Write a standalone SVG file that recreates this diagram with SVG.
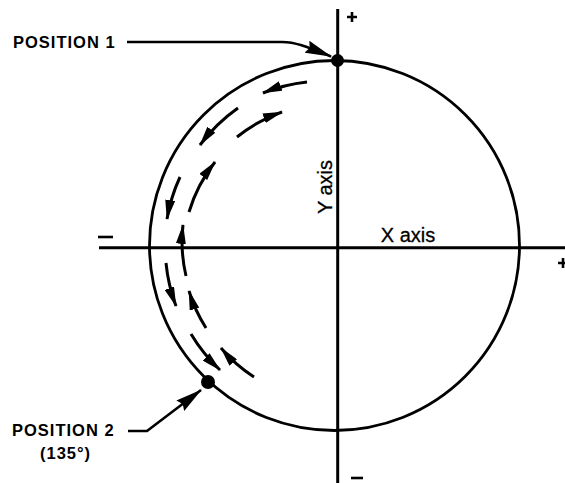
<svg xmlns="http://www.w3.org/2000/svg" width="565" height="483" viewBox="0 0 565 483">
<style>
.ln{fill:none;stroke:#000;stroke-width:2.6;stroke-linecap:butt}
.ax{fill:none;stroke:#000;stroke-width:3}
.ds{fill:none;stroke:#000;stroke-width:3}
.lbl{font-family:"Liberation Sans",Arial,sans-serif;font-weight:bold;font-size:16.5px;letter-spacing:1px;fill:#000}
.axl{font-family:"Liberation Sans",Arial,sans-serif;font-size:20px;fill:#000;stroke:#000;stroke-width:0.3}
.sg{fill:none;stroke:#000;stroke-width:2.6}
</style>
<defs>
<marker id="ah" markerUnits="userSpaceOnUse" markerWidth="20" markerHeight="10" viewBox="0 0 20 10" refX="19" refY="5" orient="auto">
<path d="M0,0 L20,5 L0,10 z" fill="#000"/>
</marker>
<marker id="lead" markerUnits="userSpaceOnUse" markerWidth="27" markerHeight="13" viewBox="0 0 27 13" refX="26" refY="6.5" orient="auto">
<path d="M0,0 L27,6.5 L0,13 L3,6.5 z" fill="#000"/>
</marker>
</defs>
<g id="axes">
<line class="ax" x1="337.7" y1="9" x2="337.7" y2="483"/>
<line class="ax" x1="99" y1="247.7" x2="565" y2="247.7"/>
<text class="axl" x="408" y="242" text-anchor="middle">X axis</text>
<text class="axl" transform="translate(332,187) rotate(-90)" text-anchor="middle">Y axis</text>
<path class="sg" d="M352,12 V22 M347,17 H357"/>
<path class="sg" d="M351,478 H363"/>
<path class="sg" d="M98,237 H113"/>
<path class="sg" d="M558,263 H565 M563,258 V268"/>
</g>
<g id="circle">
<circle cx="334.5" cy="245.5" r="185" fill="none" stroke="#000" stroke-width="2.8"/>
</g>
<g id="position1">
<circle cx="337.5" cy="60.5" r="6.5" fill="#000"/>
<text class="lbl" x="13" y="48">POSITION 1</text>
</g>
<g id="position2">
<circle cx="208" cy="382" r="7" fill="#000"/>
<text class="lbl" x="12" y="436">POSITION 2</text>
<text class="lbl" x="40" y="459">(135°)</text>
</g>
<g id="connectors">
<path class="ln" d="M127,42 H282 C295,42 305,46 331,56.5" marker-end="url(#lead)"/>
<path class="ln" d="M128,431 H147 L201,390" marker-end="url(#lead)"/>
<path class="ds" d="M307,82 A168,168 0 0 0 263,93" marker-end="url(#ah)"/>
<path class="ds" d="M238,108 A168,168 0 0 0 200,145" marker-end="url(#ah)"/>
<path class="ds" d="M180,177 A168,168 0 0 0 167,219" marker-end="url(#ah)"/>
<path class="ds" d="M166,263 A168,168 0 0 0 176,306" marker-end="url(#ah)"/>
<path class="ds" d="M191,334 A168,168 0 0 0 220,370" marker-end="url(#ah)"/>
<path class="ds" d="M254,377 A150,150 0 0 1 221,348" marker-end="url(#ah)"/>
<path class="ds" d="M206,328 A150,150 0 0 1 189,291" marker-end="url(#ah)"/>
<path class="ds" d="M186,276 A150,150 0 0 1 183,225" marker-end="url(#ah)"/>
<path class="ds" d="M189,212 A150,150 0 0 1 215,162" marker-end="url(#ah)"/>
<path class="ds" d="M237,137 A150,150 0 0 1 282,112" marker-end="url(#ah)"/>
</g>
</svg>
